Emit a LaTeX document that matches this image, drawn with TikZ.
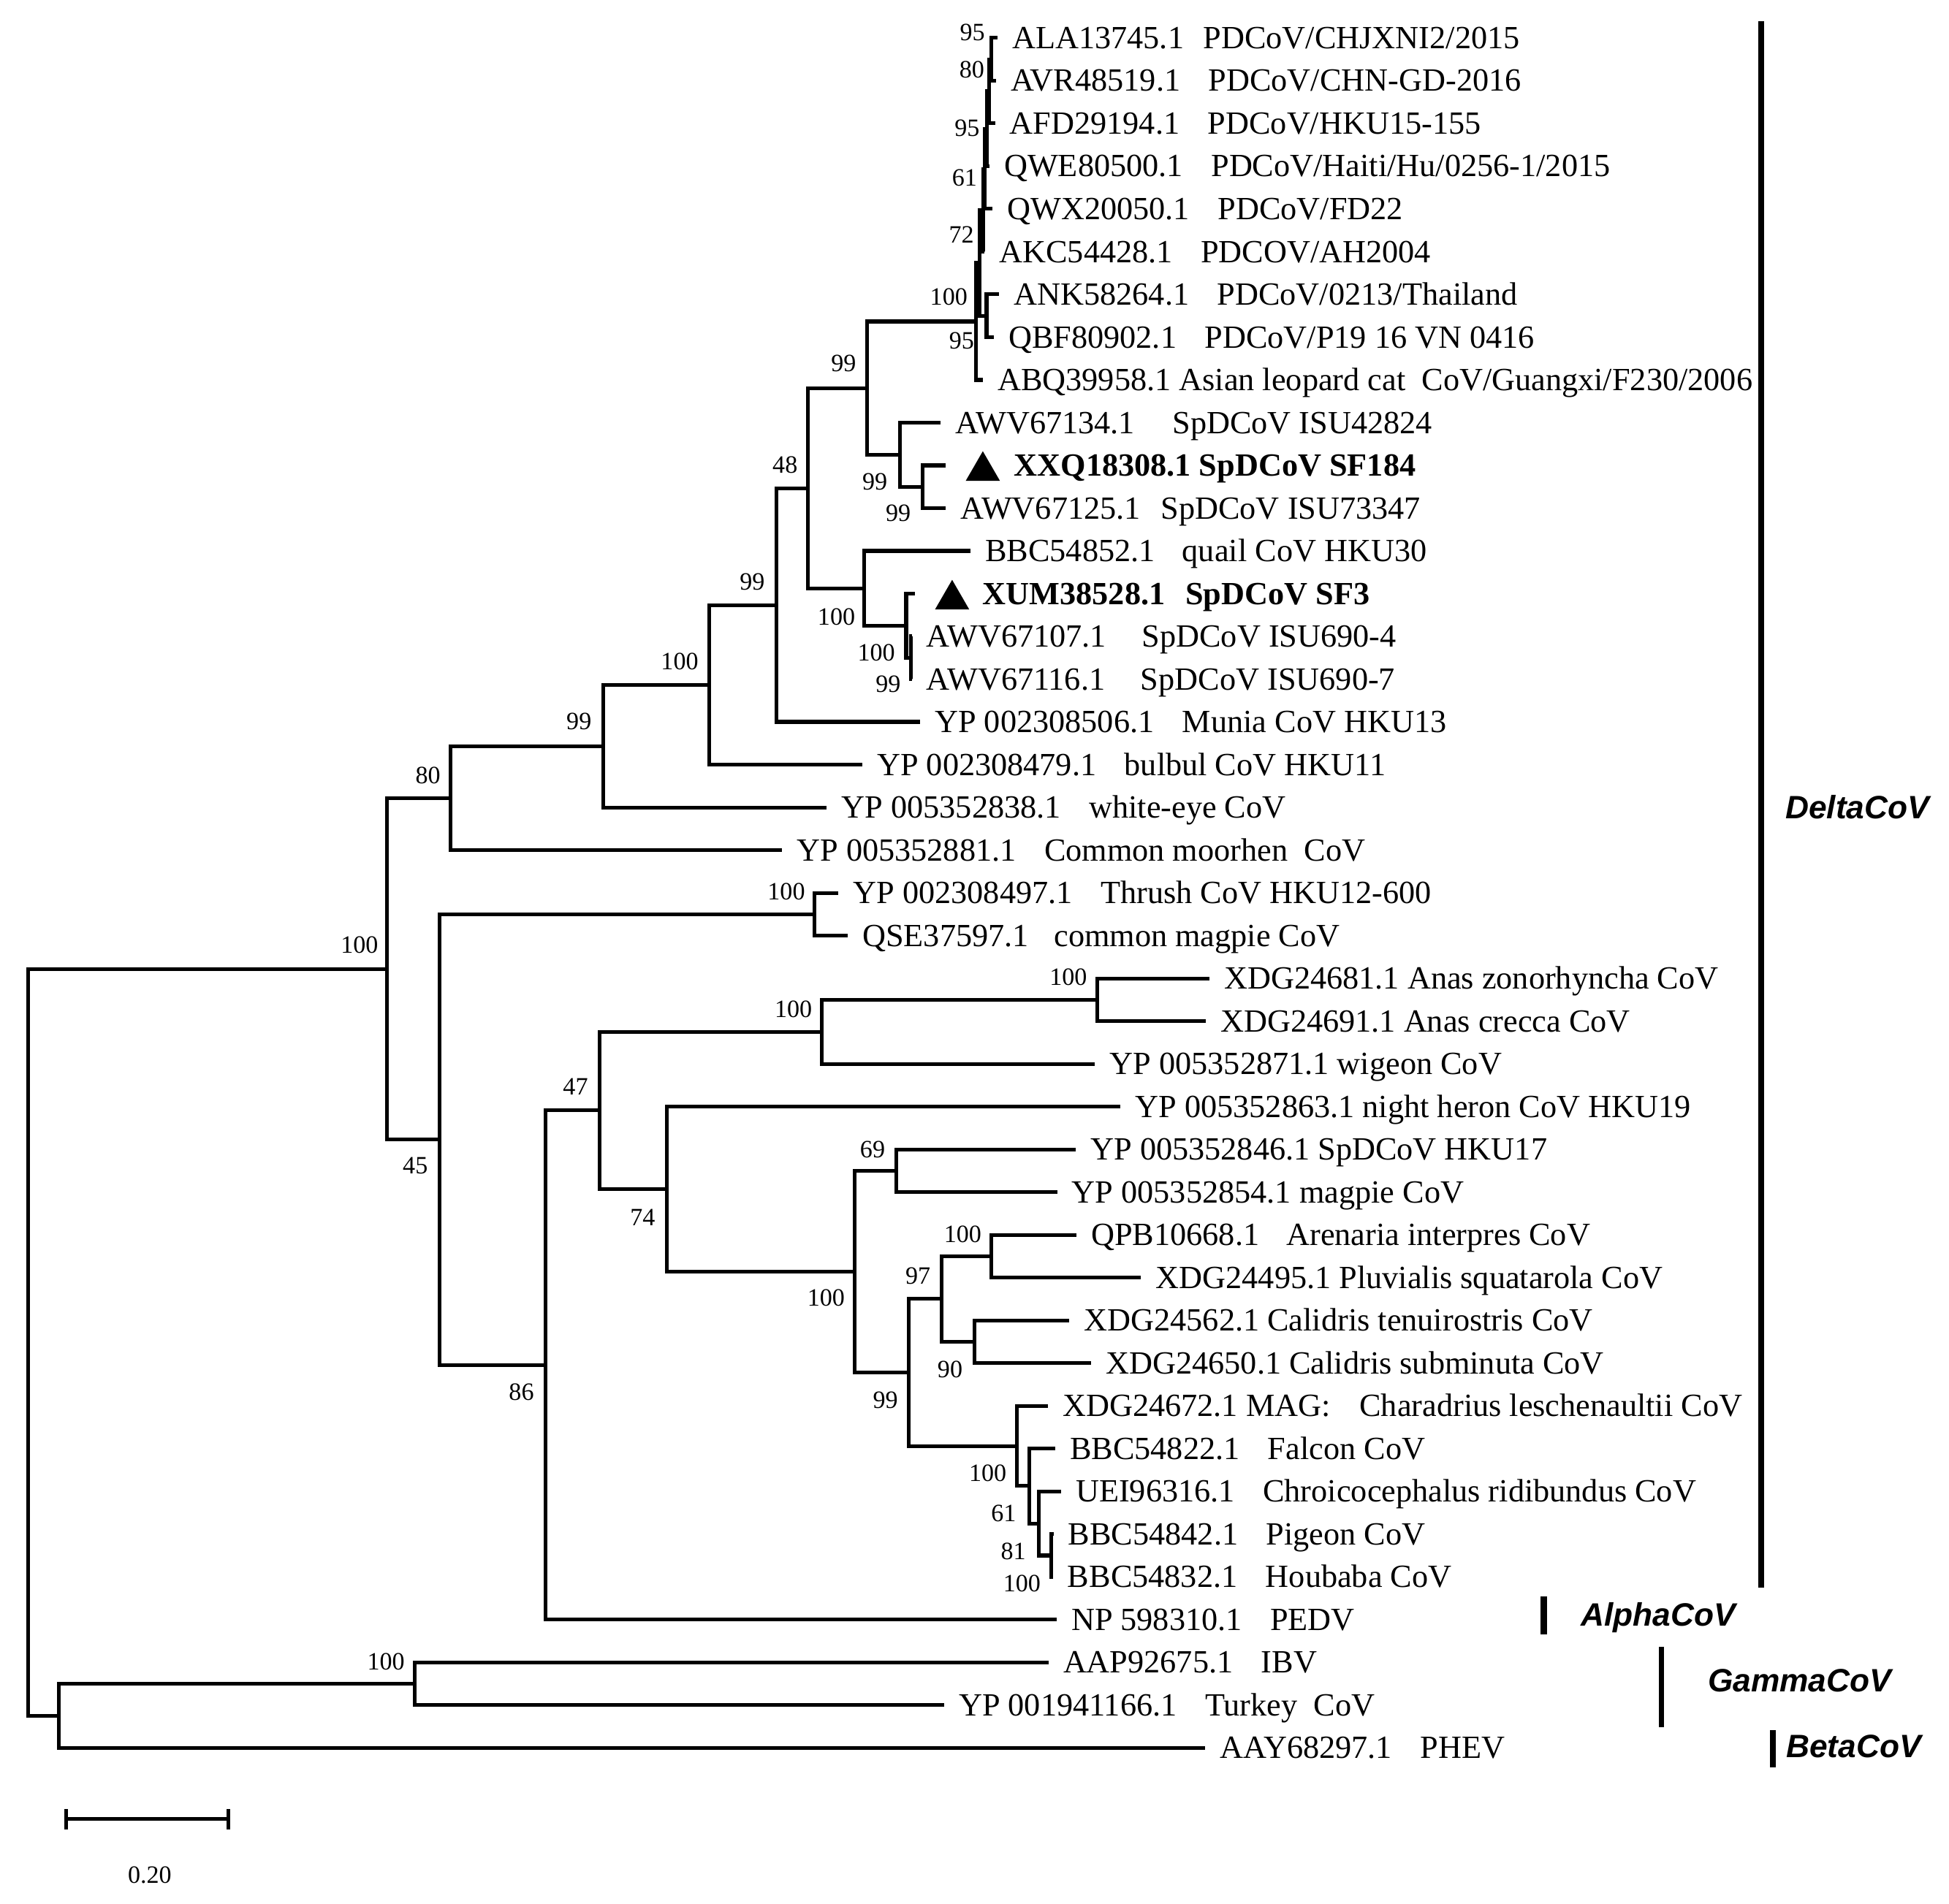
\documentclass[tikz,border=0pt]{standalone}
\usepackage{fontspec}
\setmainfont{Liberation Serif}
\newfontfamily\cladefont{Liberation Sans}
\usetikzlibrary{
  arrows.meta,
  shapes.geometric
}
\newcommand{\gp}[1][.87em]{\hspace{#1}}

\begin{document}
\begin{tikzpicture}[
  x=0.01701cm, y=-0.01701cm,
  branch/.style = {line width=1.45pt},
  leaf/.style = {anchor=west, inner xsep=0.196cm, inner ysep=0pt,
    text height=8.3pt, text depth=0pt,
    font=\fontsize{12.6}{14}\selectfont},
  boot/.style = {inner sep=0pt, text height=6.5pt, text depth=0pt,
    font=\fontsize{9.7}{11}\selectfont},
  marker/.style = {regular polygon, regular polygon sides=3,
    fill=black, inner sep=0pt, minimum size=0.541cm},
  cladebar/.style = {line width=2.1pt},
  clade/.style = {anchor=west, inner sep=0pt, text height=9pt, text depth=0pt,
    font=\fontsize{12.6}{14}\selectfont\cladefont\bfseries\itshape}]
  \useasboundingbox (0,0) rectangle (1568,1532);

  \coordinate (R)    at (22.9,1080.2);
  \coordinate (A)    at (311.2,779.7);
  \coordinate (B)    at (47.2,1380.7);
  \coordinate (Cg)   at (333.4,1354.9);
  \coordinate (D)    at (362.3,642.25);
  \coordinate (E)    at (353.7,917.1);
  \coordinate (F)    at (485.3,600.4);
  \coordinate (G)    at (570.8,551.1);
  \coordinate (H)    at (624.7,486.9);
  \coordinate (I)    at (650.2,392.85);
  \coordinate (J)    at (697.5,312.3);
  \coordinate (K)    at (695.2,473.4);
  \coordinate (M)    at (724,365.9);
  \coordinate (N)    at (742.5,391.7);
  \coordinate (L2)   at (729,503.5);
  \coordinate (L3)   at (733,529.3);
  \coordinate (P0)   at (785.2,258.7);
  \coordinate (P1)   at (788,211.6);
  \coordinate (PAQ)  at (793.7,254.1);
  \coordinate (Ne)   at (790.8,169.2);
  \coordinate (Nd)   at (792.4,135.85);
  \coordinate (Nc)   at (794,103.6);
  \coordinate (Nb)   at (795.6,73.5);
  \coordinate (Na)   at (797.6,47.7);
  \coordinate (Th)   at (655.5,735.7);
  \coordinate (Q)    at (438.7,1098.45);
  \coordinate (S47)  at (482.2,893.6);
  \coordinate (An)   at (661.2,830.3);
  \coordinate (Ab)   at (883,804.5);
  \coordinate (S74)  at (536.4,956.9);
  \coordinate (H100) at (687.8,1023.25);
  \coordinate (S69)  at (721.3,942.1);
  \coordinate (S99)  at (731,1104.4);
  \coordinate (S97)  at (757.4,1045.3);
  \coordinate (Q100) at (797.6,1010.9);
  \coordinate (S90)  at (783.9,1079.7);
  \coordinate (C100) at (818.2,1163.55);
  \coordinate (S61)  at (828,1195.8);
  \coordinate (S81)  at (835.8,1225.9);
  \coordinate (P100) at (845.6,1251.7);

  \node[leaf] (l1)  at (802.5,30.5)  {ALA13745.1\gp[.6em]PDCoV/CHJXNI2/2015};
  \node[leaf] (l2)  at (801.5,64.9)  {AVR48519.1\gp PDCoV/CHN-GD-2016};
  \node[leaf] (l3)  at (800.5,99.3)  {AFD29194.1\gp PDCoV/HKU15-155};
  \node[leaf] (l4)  at (796,133.7)   {QWE80500.1\gp PDCoV/Haiti/Hu/0256-1/2015};
  \node[leaf] (l5)  at (798.5,168.1) {QWX20050.1\gp PDCoV/FD22};
  \node[leaf] (l6)  at (792,202.5)   {AKC54428.1\gp PDCOV/AH2004};
  \node[leaf] (l7)  at (803.8,236.9) {ANK58264.1\gp PDCoV/0213/Thailand};
  \node[leaf] (l8)  at (799.5,271.3) {QBF80902.1\gp PDCoV/P19 16 VN 0416};
  \node[leaf] (l9)  at (790.7,305.7) {ABQ39958.1 Asian leopard cat\gp[.5em]CoV/Guangxi/F230/2006};
  \node[leaf] (l10) at (756.5,340.1) {AWV67134.1\gp[1.16em]SpDCoV ISU42824};
  \node[leaf] (l11) at (761,374.5)   {\hspace{0.73cm}\textbf{XXQ18308.1 SpDCoV SF184}};
  \node[leaf] (l12) at (761,408.9)   {AWV67125.1\gp[.63em]SpDCoV ISU73347};
  \node[leaf] (l13) at (780.7,443.3) {BBC54852.1\gp[.84em]quail CoV HKU30};
  \node[leaf] (l14) at (735.8,477.7) {\hspace{0.73cm}\textbf{XUM38528.1\gp[.63em]SpDCoV SF3}};
  \node[leaf] (l15) at (733.5,512.1) {AWV67107.1\gp[1.1em]SpDCoV ISU690-4};
  \node[leaf] (l16) at (733.5,546.5) {AWV67116.1\gp[1.1em]SpDCoV ISU690-7};
  \node[leaf] (l17) at (740.2,580.9) {YP 002308506.1\gp Munia CoV HKU13};
  \node[leaf] (l18) at (693.7,615.3) {YP 002308479.1\gp bulbul CoV HKU11};
  \node[leaf] (l19) at (665.2,649.7) {YP 005352838.1\gp white-eye CoV};
  \node[leaf] (l20) at (629.2,684.1) {YP 005352881.1\gp Common moorhen\gp[.5em]CoV};
  \node[leaf] (l21) at (674.5,718.5) {YP 002308497.1\gp Thrush CoV HKU12-600};
  \node[leaf] (l22) at (682,752.9)   {QSE37597.1\gp[.78em]common magpie CoV};
  \node[leaf] (l23) at (973,787.3)   {XDG24681.1 Anas zonorhyncha CoV};
  \node[leaf] (l24) at (970,821.7)   {XDG24691.1 Anas crecca CoV};
  \node[leaf] (l25) at (881,856.1)   {YP 005352871.1 wigeon CoV};
  \node[leaf] (l26) at (901.5,890.5) {YP 005352863.1 night heron CoV HKU19};
  \node[leaf] (l27) at (865.5,924.9) {YP 005352846.1 SpDCoV HKU17};
  \node[leaf] (l28) at (850.5,959.3) {YP 005352854.1 magpie CoV};
  \node[leaf] (l29) at (866,993.7)   {QPB10668.1\gp[.84em]Arenaria interpres CoV};
  \node[leaf] (l30) at (918,1028.1)  {XDG24495.1 Pluvialis squatarola CoV};
  \node[leaf] (l31) at (860.3,1062.5) {XDG24562.1 Calidris tenuirostris CoV};
  \node[leaf] (l32) at (877.9,1096.9) {XDG24650.1 Calidris subminuta CoV};
  \node[leaf] (l33) at (843,1131.3)  {XDG24672.1 MAG:\gp[.9em]Charadrius leschenaultii CoV};
  \node[leaf] (l34) at (848.8,1165.7) {BBC54822.1\gp Falcon CoV};
  \node[leaf] (l35) at (853.6,1200.1) {UEI96316.1\gp Chroicocephalus ridibundus CoV};
  \node[leaf] (l36) at (847.5,1234.5) {BBC54842.1\gp Pigeon CoV};
  \node[leaf] (l37) at (847,1268.9)  {BBC54832.1\gp Houbaba CoV};
  \node[leaf] (l38) at (850,1303.3)  {NP 598310.1\gp PEDV};
  \node[leaf] (l39) at (843.5,1337.7) {AAP92675.1\gp IBV};
  \node[leaf] (l40) at (759.5,1372.1) {YP 001941166.1\gp Turkey\gp[.5em]CoV};
  \node[leaf] (l41) at (969.5,1406.5) {AAY68297.1\gp PHEV};

  \node[marker] (m11) at (790.7,379) {};
  \node[marker] (m14) at (766,482.5) {};

  \foreach \p/\c in {R/A, R/B, A/D, A/E, B/Cg, B/l41.west, Cg/l39.west, Cg/l40.west,
      D/F, D/l20.west, F/G, F/l19.west, G/H, G/l18.west, H/I, H/l17.west,
      I/J, I/K, J/P0, J/M, P0/P1, P0/l9.west, P1/Ne, P1/PAQ,
      Ne/Nd, Ne/l6.west, Nd/Nc, Nd/l5.west, Nc/Nb, Nc/l4.west, Nb/Na, Nb/l3.west,
      Na/l1.west, Na/l2.west, PAQ/l7.west, PAQ/l8.west,
      M/l10.west, M/N, N/l11.west, N/l12.west, K/l13.west, K/L2,
      L2/l14.west, L2/L3, L3/l15.west, L3/l16.west,
      E/Th, E/Q, Th/l21.west, Th/l22.west, Q/S47, Q/l38.west,
      S47/An, S47/S74, An/Ab, An/l25.west, Ab/l23.west, Ab/l24.west,
      S74/l26.west, S74/H100, H100/S69, H100/S99, S69/l27.west, S69/l28.west,
      S99/S97, S99/C100, S97/Q100, S97/S90, Q100/l29.west, Q100/l30.west,
      S90/l31.west, S90/l32.west, C100/l33.west, C100/S61, S61/l34.west, S61/S81,
      S81/l35.west, S81/P100, P100/l36.west, P100/l37.west}
    \draw[branch] (\p) |- (\c);

  \node[boot] (bNa)   at (782.3,25.9)  {95};
  \node[boot] (bNb)   at (781.9,55.9)  {80};
  \node[boot] (bNc)   at (778,102.9)   {95};
  \node[boot] (bNd)   at (776,143)     {61};
  \node[boot] (bNe)   at (773.5,188.5) {72};
  \node[boot] (bP0)   at (763.3,238.7) {100};
  \node[boot] (bPAQ)  at (773.6,274)   {95};
  \node[boot] (bJ)    at (678.7,292.4) {99};
  \node[boot] (bI)    at (631.6,373.8) {48};
  \node[boot] (bM)    at (703.8,387.5) {99};
  \node[boot] (bN)    at (722.7,413)   {99};
  \node[boot] (bK)    at (672.9,496)   {100};
  \node[boot] (bL2)   at (705,525)     {100};
  \node[boot] (bL3)   at (714.5,550.5) {99};
  \node[boot] (bH)    at (605.2,467.9) {99};
  \node[boot] (bG)    at (546.8,532.3) {100};
  \node[boot] (bF)    at (465.8,580.3) {99};
  \node[boot] (bD)    at (344.3,623.8) {80};
  \node[boot] (bA)    at (289.2,760)   {100};
  \node[boot] (bE)    at (334.1,937.9) {45};
  \node[boot] (bTh)   at (632.6,717.3) {100};
  \node[boot] (bAn)   at (638.3,811.8) {100};
  \node[boot] (bAb)   at (859.5,786)   {100};
  \node[boot] (bS47)  at (463,874.5)   {47};
  \node[boot] (bS74)  at (517,979.6)   {74};
  \node[boot] (bS69)  at (702,924.7)   {69};
  \node[boot] (bH100) at (664.6,1044.1) {100};
  \node[boot] (bQ100) at (774.5,993)   {100};
  \node[boot] (bS97)  at (738.5,1026.6) {97};
  \node[boot] (bS90)  at (764.3,1102)  {90};
  \node[boot] (bS99)  at (712.4,1126.4) {99};
  \node[boot] (bC100) at (794.7,1185.1) {100};
  \node[boot] (bS61)  at (807.4,1217.7) {61};
  \node[boot] (bS81)  at (815.2,1248.2) {81};
  \node[boot] (bP100) at (822.1,1274.3) {100};
  \node[boot] (bQ)    at (419.5,1119.8) {86};
  \node[boot] (bCg)   at (310.5,1336.7) {100};

  \draw[cladebar] (1416.8,16.9) -- (1416.8,1277.8);
  \draw[cladebar, line width=2.6pt] (1241.8,1284.5) -- (1241.8,1315.3);
  \draw[cladebar] (1336.6,1325.1) -- (1336.6,1390);
  \draw[cladebar] (1426.4,1392.3) -- (1426.4,1422.3);
  \node[clade] (delta) at (1436,649.5)     {DeltaCoV};
  \node[clade] (alpha) at (1271.4,1299.2)  {AlphaCoV};
  \node[clade] (gamma) at (1373.6,1352.1)  {GammaCoV};
  \node[clade] (beta)  at (1436.7,1405)    {BetaCoV};

  \coordinate (sb1) at (51.9,1463.8);
  \coordinate (sb2) at (185.2,1463.8);
  \draw[branch, {Bar[width=0.28cm]}-{Bar[width=0.28cm]}] (sb1) -- (sb2);
  \node[boot] (sbl) at (120.5,1508.9) {0.20};
\end{tikzpicture}
\end{document}
